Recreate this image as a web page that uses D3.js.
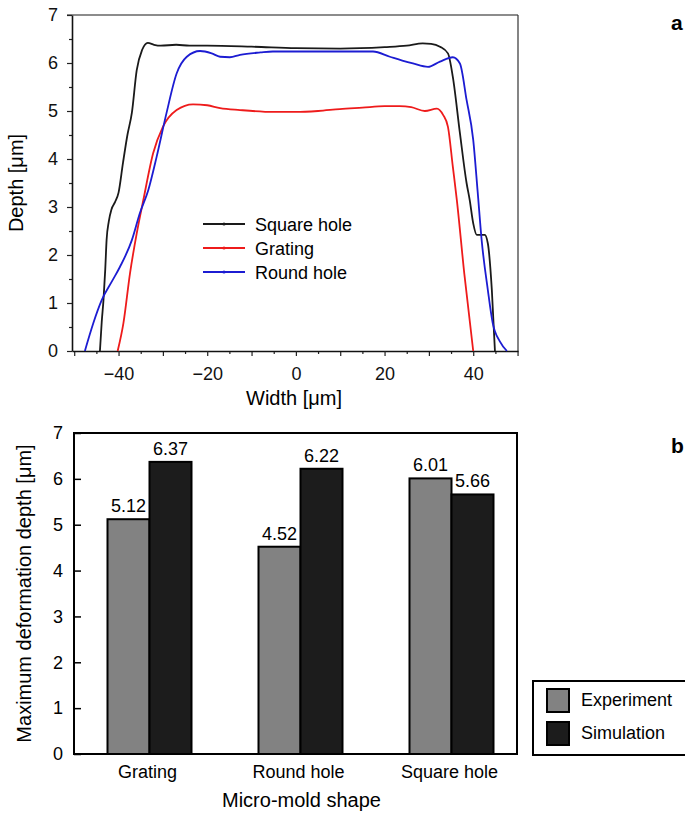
<!DOCTYPE html>
<html>
<head>
<meta charset="utf-8">
<script src="https://cdn.jsdelivr.net/npm/d3@7/dist/d3.min.js"></script>
<style>
  body { margin: 0; background: #fff; }
  text { font-family: "Liberation Sans", Arial, sans-serif; }
</style>
</head>
<body>
<svg id="chart" width="685" height="813"></svg>
<script>
// ---- panel a: depth profiles ----
const squareW = [-44.2, -43.8, -43.4, -43.0, -42.7, -42.2, -41.6, -40.8, -40.0, -39.0, -38.0, -37.0, -35.9, -34.7, -33.4, -32.0, -30.5, -27, -24, -20, -10, 0, 10, 20, 25, 28.6, 30.5, 32.5, 34.3, 35.4, 37, 38.5, 39.2, 40, 40.8, 42.6, 43.3, 44.2, 44.9]
const squareD = [0, 0.6, 1.06, 1.7, 2.31, 2.7, 2.95, 3.1, 3.3, 3.92, 4.5, 4.96, 5.85, 6.27, 6.42, 6.38, 6.36, 6.38, 6.36, 6.36, 6.34, 6.31, 6.30, 6.33, 6.36, 6.41, 6.40, 6.34, 6.2, 5.71, 4.54, 3.5, 3.15, 2.66, 2.42, 2.42, 2.24, 1.27, 0]

const gratingW = [-40.2, -38.9, -37.4, -35.9, -34.4, -32.2, -30, -26.9, -23.2, -20, -17.1, -12.6, -5, 0, 5, 9.9, 15, 20, 23.4, 26, 29.1, 31.8, 33.2, 34.3, 35.4, 36.3, 38, 40]
const gratingD = [0, 0.58, 1.63, 2.45, 3.15, 4.12, 4.67, 5.02, 5.14, 5.12, 5.06, 5.02, 4.98, 4.98, 5.0, 5.04, 5.07, 5.1, 5.1, 5.08, 5.0, 5.05, 4.92, 4.67, 3.84, 3.15, 1.6, 0]

const roundW = [-47.6, -45.7, -43.8, -41.5, -39.7, -37.0, -35.2, -33.3, -31.4, -29.2, -26.9, -24.6, -21.6, -19, -17.1, -14.9, -12.6, -8, -5.2, 0, 10, 17.4, 21.2, 24, 26.4, 29.8, 32.5, 35.4, 37, 38.5, 40, 41, 41.9, 43.3, 44.4, 46, 47.6]
const roundD = [0, 0.58, 1.06, 1.45, 1.75, 2.31, 2.87, 3.35, 4.05, 4.95, 5.78, 6.13, 6.25, 6.2, 6.13, 6.12, 6.17, 6.22, 6.24, 6.24, 6.24, 6.24, 6.13, 6.05, 5.99, 5.92, 6.03, 6.12, 5.99, 5.23, 4.40, 3.32, 2.31, 1.27, 0.58, 0.2, 0]

const profileNames = ['Square hole', 'Grating', 'Round hole']
const profileColors = ['#1a1a1a', '#ee1b1b', '#1c1cd2']
const widthTicks = [-40, -20, 0, 20, 40]
const depthTicks = [0, 1, 2, 3, 4, 5, 6, 7]

// ---- panel b: maximum depth ----
const shapes = ['Grating', 'Round hole', 'Square hole']
const sources = ['Experiment', 'Simulation']
const experimentVals = [5.12, 4.52, 6.01]
const simulationVals = [6.37, 6.22, 5.66]
const sourceColors = ['#828282', '#1c1c1c']
const maxTicks = [0, 1, 2, 3, 4, 5, 6, 7]

const svg = d3.select('#chart')
const intFmt = d3.format('d')

function renderProfiles() {
  const left = 72, right = 518, top = 15, bottom = 351
  const x = d3.scaleLinear().domain([-50.5, 50.1]).range([left, right])
  const y = d3.scaleLinear().domain([0, 7]).range([bottom, top])
  const g = svg.append('g')

  // frame (top and right in grey)
  g.append('line')
    .attr('x1', left - 5).attr('x2', right)
    .attr('y1', top).attr('y2', top)
    .attr('stroke', '#666').attr('stroke-width', 1.5)
  g.append('line')
    .attr('x1', right).attr('x2', right)
    .attr('y1', top).attr('y2', bottom)
    .attr('stroke', '#333').attr('stroke-width', 1.2)

  // minor ticks
  g.append('g')
    .attr('transform', `translate(${left},0)`)
    .call(d3.axisLeft(y).tickValues(d3.range(0.5, 7, 1)).tickSize(3).tickFormat(''))
    .call(a => a.select('.domain').remove())
  g.append('g')
    .attr('transform', `translate(0,${bottom})`)
    .call(d3.axisBottom(x).tickValues(d3.range(-45, 51, 10)).tickSize(3).tickFormat(''))
    .call(a => a.select('.domain').remove())
  g.append('g')
    .attr('transform', `translate(0,${bottom})`)
    .call(d3.axisBottom(x).tickValues([-50, -30, -10, 10, 30, 50]).tickSize(5).tickFormat(''))
    .call(a => a.select('.domain').remove())

  const yAxis = g.append('g')
    .attr('transform', `translate(${left},0)`)
    .call(d3.axisLeft(y).tickValues(depthTicks).tickFormat(intFmt).tickSize(5).tickSizeOuter(0).tickPadding(9))
  const xAxis = g.append('g')
    .attr('transform', `translate(0,${bottom})`)
    .call(d3.axisBottom(x).tickValues(widthTicks).tickFormat(d3.format('d')).tickSize(5).tickSizeOuter(0).tickPadding(11))

  for (const ax of [yAxis, xAxis]) {
    ax.select('.domain').attr('stroke', '#111').attr('stroke-width', 1.6)
    ax.selectAll('text').attr('font-size', 18).attr('fill', '#111')
      .style('font-family', '"Liberation Sans", Arial, sans-serif')
  }
  g.selectAll('.tick line').attr('stroke', '#222').attr('stroke-width', 1.2)

  // axis titles
  g.append('text')
    .attr('x', (left + right) / 2 - 1)
    .attr('y', 405)
    .attr('text-anchor', 'middle')
    .attr('font-size', 20)
    .text('Width [μm]')
  g.append('text')
    .attr('transform', `translate(23,${(top + bottom) / 2}) rotate(-90)`)
    .attr('text-anchor', 'middle')
    .attr('font-size', 20)
    .text('Depth [μm]')

  // curves
  const series = [
    squareW.map((w, i) => [w, squareD[i]]),
    gratingW.map((w, i) => [w, gratingD[i]]),
    roundW.map((w, i) => [w, roundD[i]])
  ]
  const line = d3.line()
    .x(d => x(d[0]))
    .y(d => y(d[1]))
    .curve(d3.curveMonotoneX)

  g.append('g')
    .selectAll('path')
    .data(series)
    .join('path')
    .attr('d', line)
    .attr('fill', 'none')
    .attr('stroke', (d, i) => profileColors[i])
    .attr('stroke-width', 1.8)
    .attr('stroke-linejoin', 'round')

  // legend
  const legend = g.append('g').attr('transform', 'translate(203,224)')
  const rows = legend.selectAll('g')
    .data(profileNames)
    .join('g')
    .attr('transform', (d, i) => `translate(0,${i * 24})`)
  rows.append('line')
    .attr('x1', 0).attr('x2', 42)
    .attr('stroke', (d, i) => profileColors[i])
    .attr('stroke-width', 2)
  rows.append('circle')
    .attr('cx', 21).attr('r', 1.6)
    .attr('fill', (d, i) => profileColors[i])
  rows.append('text')
    .attr('x', 52).attr('y', 7)
    .attr('font-size', 18)
    .text(d => d)

  svg.append('text')
    .attr('x', 671).attr('y', 30)
    .attr('font-size', 21)
    .attr('font-weight', 'bold')
    .text('a')
}

function renderBars() {
  const left = 74, right = 517, top = 433, bottom = 754
  const y = d3.scaleLinear().domain([0, 7]).range([bottom, top])
  const x = d3.scaleBand().domain(shapes).range([left, left + 453])
  const xs = d3.scaleBand().domain(sources).range([-42, 42])
  const g = svg.append('g')

  const yAxis = g.append('g')
    .attr('transform', `translate(${left},0)`)
    .call(d3.axisLeft(y).tickValues(maxTicks).tickFormat(intFmt).tickSize(-7).tickSizeOuter(0).tickPadding(11))
  yAxis.select('.domain').remove()
  yAxis.selectAll('.tick line').attr('stroke', '#000').attr('stroke-width', 1.5)
  yAxis.selectAll('text').attr('font-size', 18).attr('fill', '#000')
    .style('font-family', '"Liberation Sans", Arial, sans-serif')

  // bars
  const data = shapes.flatMap((s, i) => [
    { shape: s, source: sources[0], value: experimentVals[i], k: 0 },
    { shape: s, source: sources[1], value: simulationVals[i], k: 1 }
  ])
  g.append('g')
    .selectAll('rect')
    .data(data)
    .join('rect')
    .attr('x', d => x(d.shape) + x.bandwidth() / 2 + xs(d.source))
    .attr('y', d => y(d.value))
    .attr('width', xs.bandwidth())
    .attr('height', d => y(0) - y(d.value))
    .attr('fill', d => sourceColors[d.k])
    .attr('stroke', '#000')
    .attr('stroke-width', 2)

  g.append('g')
    .selectAll('text')
    .data(data)
    .join('text')
    .attr('x', d => x(d.shape) + x.bandwidth() / 2 + xs(d.source) + xs.bandwidth() / 2)
    .attr('y', d => y(d.value) - 7)
    .attr('text-anchor', 'middle')
    .attr('font-size', 18)
    .text(d => d.value.toFixed(2))

  // frame
  g.append('rect')
    .attr('x', left).attr('y', top)
    .attr('width', right - left).attr('height', bottom - top)
    .attr('fill', 'none')
    .attr('stroke', '#000')
    .attr('stroke-width', 2)

  g.append('g')
    .selectAll('text')
    .data(shapes)
    .join('text')
    .attr('x', d => x(d) + x.bandwidth() / 2 - 2)
    .attr('y', 778)
    .attr('text-anchor', 'middle')
    .attr('font-size', 18)
    .text(d => d)

  g.append('text')
    .attr('x', (left + right) / 2 + 6)
    .attr('y', 807)
    .attr('text-anchor', 'middle')
    .attr('font-size', 20)
    .text('Micro-mold shape')
  g.append('text')
    .attr('transform', `translate(31,${(top + bottom) / 2}) rotate(-90)`)
    .attr('text-anchor', 'middle')
    .attr('font-size', 20)
    .text('Maximum deformation depth [μm]')

  // legend
  const legend = g.append('g').attr('transform', 'translate(533,681)')
  legend.append('rect')
    .attr('width', 170).attr('height', 74)
    .attr('fill', '#fff')
    .attr('stroke', '#000')
    .attr('stroke-width', 2)
  const rows = legend.selectAll('g')
    .data(sources)
    .join('g')
    .attr('transform', (d, i) => `translate(14,${8 + i * 33})`)
  rows.append('rect')
    .attr('width', 22).attr('height', 23)
    .attr('fill', (d, i) => sourceColors[i])
    .attr('stroke', '#000')
    .attr('stroke-width', 2)
  rows.append('text')
    .attr('x', 34).attr('y', 17)
    .attr('font-size', 18)
    .text(d => d)

  svg.append('text')
    .attr('x', 671).attr('y', 453)
    .attr('font-size', 21)
    .attr('font-weight', 'bold')
    .text('b')
}

renderProfiles()
renderBars()
</script>
</body>
</html>
